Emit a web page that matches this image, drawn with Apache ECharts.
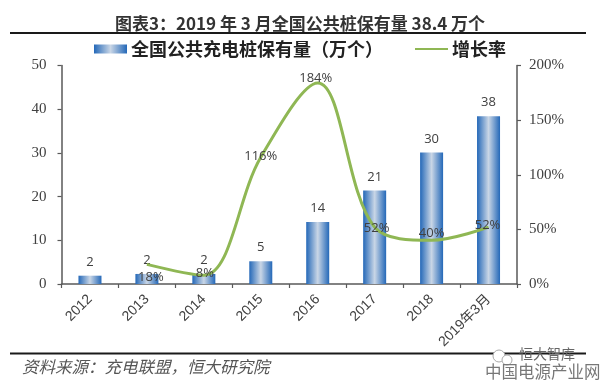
<!DOCTYPE html>
<html>
<head>
<meta charset="utf-8">
<style>html,body{margin:0;padding:0;background:#fff}#c{width:601px;height:383px}</style>
<script src="https://cdn.jsdelivr.net/npm/echarts@6/dist/echarts.min.js"></script>
</head>
<body>
<div id="c"></div>
<script>
var categories = ['2012','2013','2014','2015','2016','2017','2018','2019年3月'];
var stock = [1.9,2.3,2.3,5.2,14.2,21.4,30.1,38.4];
var stockLabels = ['2','2','2','5','14','21','30','38'];
var growth = [null,18,8,116,184,52,40,52];
var leftTicks = [0,10,20,30,40,50];
var rightTicks = [0,50,100,150,200];
var barName = '全国公共充电桩保有量（万个）';
var lineName = '增长率';
var titleText = '图表3：2019 年 3 月全国公共桩保有量 38.4 万个';
var sourceText = '资料来源：充电联盟，恒大研究院';

var growthLabelOffsets = [[0,0],[4,13],[1,-2],[0,-1],[-2,-5],[2,1],[0,-7],[-1,-2]];
var cjk = '"Noto Sans CJK SC"';
var txt = '#404040';
var axisCol = '#595959';
var green = '#8fb754';

var chart = echarts.init(document.getElementById('c'), null, {renderer:'canvas'});
chart.setOption({
  animation:false,
  backgroundColor:'#fff',
  title:{text:titleText,left:115,top:13,itemGap:0,padding:0,
    textStyle:{fontFamily:cjk,fontSize:17,fontWeight:'bold',color:'#333',lineHeight:22}},
  legend:{top:40,left:94,itemWidth:33,itemHeight:9,itemGap:31,padding:0,
    textStyle:{fontFamily:cjk,fontSize:18,fontWeight:'bold',color:'#222',padding:[0,0,0,-1]},
    data:[{name:barName,icon:'rect'},{name:lineName,itemStyle:{opacity:0}}]},
  grid:{left:61.5,right:84,top:65.5,bottom:99,containLabel:false},
  xAxis:{type:'category',data:categories,boundaryGap:true,
    axisLine:{lineStyle:{color:axisCol,width:1.5}},
    axisTick:{show:true,alignWithLabel:false,length:4,lineStyle:{color:axisCol,width:1.2}},
    axisLabel:{rotate:45,interval:0,margin:13,fontFamily:'"Liberation Sans",'+cjk,fontSize:14,color:txt}},
  yAxis:[
    {type:'value',min:0,max:50,interval:10,splitLine:{show:false},
     axisLine:{show:true,lineStyle:{color:axisCol,width:1.5}},
     axisTick:{show:true,length:4,lineStyle:{color:axisCol,width:1.2}},
     axisLabel:{margin:15,fontFamily:'"Liberation Serif"',fontSize:15,color:txt,
       formatter:function(v){return leftTicks.indexOf(v)>=0?String(v):'';}}},
    {type:'value',min:0,max:200,interval:50,position:'right',splitLine:{show:false},
     axisLine:{show:true,lineStyle:{color:axisCol,width:1.5}},
     axisTick:{show:true,length:4,lineStyle:{color:axisCol,width:1.2}},
     axisLabel:{margin:12,fontFamily:'"Liberation Serif"',fontSize:15,color:txt,
       formatter:function(v){return rightTicks.indexOf(v)>=0?v+'%':'';}}}
  ],
  series:[
    {name:barName,type:'bar',yAxisIndex:0,barWidth:23,
     data:stock,
     itemStyle:{color:new echarts.graphic.LinearGradient(0,0,1,0,[
       {offset:0,color:'#2468b8'},{offset:0.5,color:'#c9d6e6'},{offset:1,color:'#2468b8'}])},
     label:{show:true,position:'top',distance:7,fontFamily:'"Open Sans"',fontSize:13,color:txt,
       formatter:function(p){return stockLabels[p.dataIndex];}}},
    {name:lineName,type:'line',yAxisIndex:1,smooth:0.35,symbol:'circle',symbolSize:0,showSymbol:true,showAllSymbol:true,connectNulls:false,
     lineStyle:{color:green,width:3},itemStyle:{color:green},z:3,
     data:growth.map(function(v,i){
       return {value:v,label:{offset:growthLabelOffsets[i]}};
     }),
     label:{show:true,position:'inside',fontFamily:'"Open Sans"',fontSize:13,color:txt,
       formatter:function(p){return p.value==null?'':p.value+'%';}}}
  ],
  graphic:[
    {type:'line',shape:{x1:10,y1:33,x2:586,y2:33},style:{stroke:'#1a1a1a',lineWidth:2},silent:true},
    {type:'line',shape:{x1:10,y1:353.5,x2:586,y2:353.5},style:{stroke:'#1a1a1a',lineWidth:2},silent:true},
    {type:'text',left:22,top:358,style:{text:sourceText,fontFamily:cjk,fontStyle:'italic',fontSize:16.5,fill:'#555'}},
    {type:'circle',shape:{cx:499,cy:356,r:6},style:{fill:'#fff',stroke:'#aaa',lineWidth:1}},
    {type:'circle',shape:{cx:507,cy:360,r:5},style:{fill:'#fff',stroke:'#aaa',lineWidth:1}},
    {type:'text',left:519,top:347,style:{text:'恒大智库',fontFamily:cjk,fontSize:14,fill:'#666'}},
    {type:'text',left:485,top:363,style:{text:'中国电源产业网',fontFamily:cjk,fontSize:16.5,fill:'#777'}}
  ]
});
</script>
</body>
</html>
